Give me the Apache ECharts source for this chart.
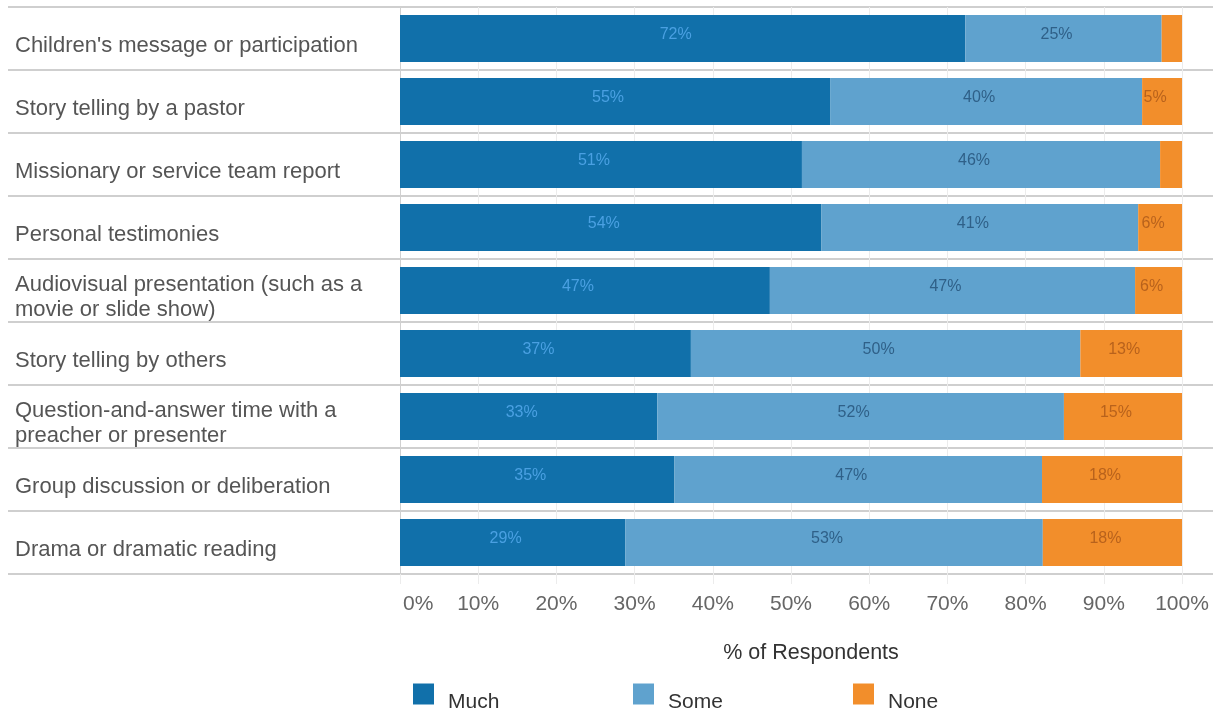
<!DOCTYPE html>
<html>
<head>
<meta charset="utf-8">
<script src="https://cdn.jsdelivr.net/npm/echarts@6/dist/echarts.min.js"></script>
<style>
  html, body { margin: 0; padding: 0; background: #fff; }
  #chart { width: 1213px; height: 713px; }
</style>
</head>
<body>
<div id="chart"></div>
<script>
// Survey items, top to bottom
const categories = [
  "Children's message or participation",
  "Story telling by a pastor",
  "Missionary or service team report",
  "Personal testimonies",
  "Audiovisual presentation (such as a\nmovie or slide show)",
  "Story telling by others",
  "Question-and-answer time with a\npreacher or presenter",
  "Group discussion or deliberation",
  "Drama or dramatic reading"
];

// Share of respondents (%) per response
const much = [72.3, 55.0, 51.4, 53.9, 47.3, 37.2, 32.9, 35.1, 28.8];
const some = [25.1, 39.9, 45.8, 40.5, 46.7, 49.8, 52.0, 47.0, 53.4];
const none = [2.6, 5.1, 2.8, 5.6, 6.0, 13.0, 15.1, 17.9, 17.8];

const xTicks = ["0%", "10%", "20%", "30%", "40%", "50%", "60%", "70%", "80%", "90%", "100%"];

const legendItems = ["Much", "Some", "None"];
const colors = { Much: '#1170aa', Some: '#5fa2ce', None: '#f28e2b' };
const labelColors = { Much: '#4aa0e2', Some: '#2f6088', None: '#b8621c' };

const FONT = "'Liberation Sans', Arial, Helvetica, sans-serif";

function segmentLabel(color) {
  return {
    show: true,
    position: 'inside',
    offset: [-7, -4],
    fontFamily: FONT,
    fontSize: 16,
    color: color,
    formatter: p => (p.value >= 5 ? Math.round(p.value) + '%' : '')
  };
}

// a thin empty first line nudges a centred text block downwards
function nudged(text) {
  return '{gap| }\n' + text;
}

// one legend block per response, spaced evenly along the bottom
function legendBlock(name, i) {
  return {
    left: 413 + i * 220,
    top: 674,
    padding: 0,
    itemWidth: 21,
    itemHeight: 21,
    icon: 'rect',
    data: [name],
    selectedMode: false,
    formatter: nudged,
    textStyle: {
      fontSize: 21,
      lineHeight: 24,
      color: '#333',
      fontFamily: FONT,
      padding: [0, 0, 0, 9],
      rich: { gap: { fontSize: 4, lineHeight: 16, height: 16 } }
    }
  };
}

const chart = echarts.init(document.getElementById('chart'), null, { renderer: 'canvas' });

chart.setOption({
  animation: false,
  textStyle: { fontFamily: FONT },
  grid: [
    { left: 400, right: 31, top: 7, bottom: 139, containLabel: false },
    // full-width band used only for the row separators
    { left: 8, right: 0, top: 7, bottom: 139, containLabel: false }
  ],
  xAxis: [
    {
      gridIndex: 0,
      type: 'value',
      min: 0,
      max: 100,
      interval: 10,
      name: '{t|% of Respondents}',
      nameLocation: 'middle',
      nameGap: 68,
      nameTextStyle: {
        fontSize: 21.5,
        color: '#333',
        fontFamily: FONT,
        rich: { t: { fontSize: 21.5, color: '#333', fontFamily: FONT, padding: [0, 0, 0, 40] } }
      },
      axisLine: { show: false },
      axisTick: { show: true, length: 10, lineStyle: { color: '#ececec' } },
      axisLabel: {
        margin: 20,
        fontSize: 21,
        color: '#666',
        fontFamily: FONT,
        alignMinLabel: 'left',
        formatter: v => (v === 0 ? '{first|' + xTicks[0] + '}' : xTicks[Math.round(v / 10)]),
        rich: { first: { fontSize: 21, color: '#666', fontFamily: FONT, padding: [0, 0, 0, 3] } }
      },
      splitLine: { show: true, lineStyle: { color: '#ececec', width: 1 } }
    },
    { gridIndex: 1, type: 'value', show: false, min: 0, max: 1 }
  ],
  yAxis: [
    {
      gridIndex: 0,
      type: 'category',
      inverse: true,
      data: categories,
      axisLine: { show: true, lineStyle: { color: '#d0d0d0', width: 1 } },
      axisTick: { show: false },
      splitLine: { show: false },
      axisLabel: {
        align: 'left',
        margin: 385,
        fontSize: 22,
        lineHeight: 25,
        color: '#555',
        fontFamily: FONT,
        formatter: nudged,
        rich: { gap: { fontSize: 4, lineHeight: 14, height: 14 } }
      }
    },
    {
      gridIndex: 1,
      type: 'category',
      inverse: true,
      data: categories,
      axisLine: { show: false },
      axisTick: { show: false },
      axisLabel: { show: false },
      splitLine: { show: true, lineStyle: { color: '#cfcfcf', width: 2 } }
    }
  ],
  legend: legendItems.map(legendBlock),
  series: [
    { name: 'Much', values: much },
    { name: 'Some', values: some },
    { name: 'None', values: none }
  ].map(s => ({
    name: s.name,
    type: 'bar',
    stack: 'total',
    data: s.values,
    barWidth: 47,
    itemStyle: { color: colors[s.name] },
    label: segmentLabel(labelColors[s.name])
  }))
});
</script>
</body>
</html>
